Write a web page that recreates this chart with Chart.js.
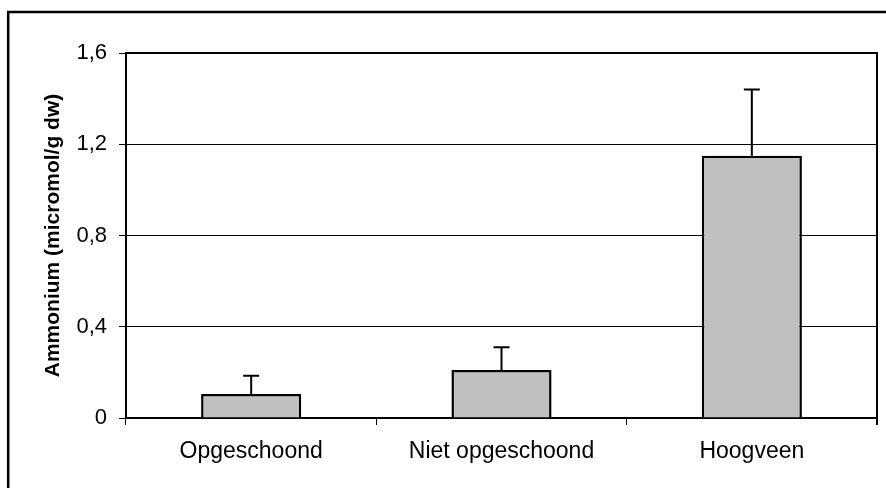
<!DOCTYPE html>
<html>
<head>
<meta charset="utf-8">
<script src="https://cdn.jsdelivr.net/npm/chart.js@4/dist/chart.umd.min.js"></script>
<style>
  html, body { margin: 0; padding: 0; background: #fff; }
  #wrap { position: relative; width: 886px; height: 488px; }
</style>
</head>
<body>
<div id="wrap"><canvas id="c" width="886" height="488"></canvas></div>
<script>
// Ammonium content per site type (micromol/g dry weight)
const categories = ['Opgeschoond', 'Niet opgeschoond', 'Hoogveen'];
const ammonium = [0.105, 0.21, 1.15];
// Upper end of the error bar for each site
const errorTop = [0.185, 0.31, 1.44];
const yTickLabels = { 0: '0', 0.4: '0,4', 0.8: '0,8', 1.2: '1,2', 1.6: '1,6' };

const FONT = 'Arial, "Liberation Sans", sans-serif';

// Upward error bars with a short cap
const errorBars = {
  id: 'errorBars',
  afterDatasetsDraw(chart) {
    const ctx = chart.ctx;
    const meta = chart.getDatasetMeta(0);
    const y = chart.scales.y;
    ctx.save();
    ctx.strokeStyle = '#000';
    ctx.lineWidth = 2;
    meta.data.forEach((bar, i) => {
      const x = bar.x;
      const yTop = y.getPixelForValue(errorTop[i]);
      const yBase = y.getPixelForValue(ammonium[i]);
      ctx.beginPath();
      ctx.moveTo(x, yBase);
      ctx.lineTo(x, yTop);
      ctx.moveTo(x - 8, yTop);
      ctx.lineTo(x + 8, yTop);
      ctx.stroke();
    });
    ctx.restore();
  }
};

// Plot-area box (top and right edges) and the outer frame
const frames = {
  id: 'frames',
  afterDraw(chart) {
    const ctx = chart.ctx;
    const a = chart.chartArea;
    ctx.save();
    ctx.strokeStyle = '#000';
    ctx.lineWidth = 2;
    ctx.beginPath();
    ctx.moveTo(a.left, a.top);
    ctx.lineTo(a.right, a.top);
    ctx.lineTo(a.right, a.bottom + 7);
    ctx.stroke();
    ctx.lineWidth = 2.5;
    ctx.beginPath();
    ctx.moveTo(8.2, 488);
    ctx.lineTo(8.2, 12);
    ctx.lineTo(886, 12);
    ctx.stroke();
    ctx.restore();
  }
};

new Chart(document.getElementById('c'), {
  type: 'bar',
  data: {
    labels: categories,
    datasets: [{
      data: ammonium,
      backgroundColor: '#c0c0c0',
      borderColor: '#000',
      borderWidth: 2.5,
      categoryPercentage: 1,
      barPercentage: 0.4
    }]
  },
  options: {
    responsive: false,
    animation: false,
    devicePixelRatio: 1,
    layout: { padding: { top: 53, right: 9, left: 0, bottom: 0 } },
    plugins: { legend: { display: false }, tooltip: { enabled: false } },
    scales: {
      x: {
        afterFit(s) { s.height = 70; },
        grid: {
          offset: true,
          drawOnChartArea: false,
          drawTicks: true,
          tickLength: 7,
          color: '#000',
          lineWidth: 1
        },
        border: { display: true, color: '#000', width: 2 },
        ticks: {
          color: '#000',
          padding: 13,
          font: { family: FONT, size: 23 }
        }
      },
      y: {
        min: 0,
        max: 1.6,
        afterFit(s) { s.width = 126; },
        afterBuildTicks(s) {
          s.ticks = Object.keys(yTickLabels).map(Number).sort((p, q) => p - q).map(v => ({ value: v }));
        },
        grid: {
          color: '#000',
          lineWidth: 1,
          tickLength: 7,
          drawTicks: true
        },
        border: { display: true, color: '#000', width: 2 },
        ticks: {
          color: '#000',
          padding: 12,
          font: { family: FONT, size: 22 },
          callback: v => yTickLabels[v] ?? ''
        },
        title: {
          display: true,
          text: 'Ammonium (micromol/g dw)',
          color: '#000',
          padding: { top: 41, bottom: 0 },
          font: { family: FONT, size: 21, weight: 'bold' }
        }
      }
    }
  },
  plugins: [errorBars, frames]
});
</script>
</body>
</html>
